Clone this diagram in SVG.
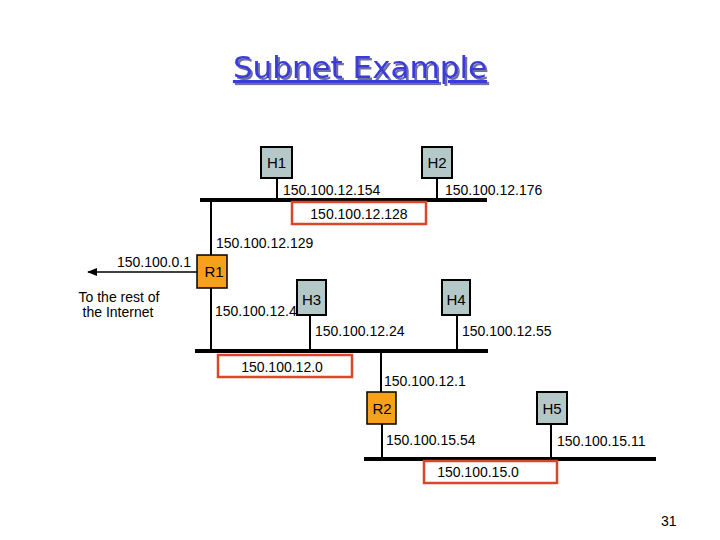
<svg xmlns="http://www.w3.org/2000/svg" width="720" height="540" viewBox="0 0 720 540">
<style>
text{font-family:"Liberation Sans",Arial,sans-serif;font-size:14px;fill:#000}
.host{fill:#b4c8c8;stroke:#000;stroke-width:2}
.rtr{fill:#f7a11a;stroke:#000;stroke-width:1.5}
.bus{stroke:#000;stroke-width:4}
.ln{stroke:#000;stroke-width:2}
.net{fill:#fff;stroke:#d9462a;stroke-width:2.5}
.lbl{font-size:15px}
</style>
<defs><marker id="ah" markerWidth="10" markerHeight="8" refX="9" refY="4" orient="auto" markerUnits="userSpaceOnUse"><path d="M0,0L10,4L0,8z" fill="#000"/></marker>
<filter id="sh" x="-10%" y="-20%" width="120%" height="150%"><feDropShadow dx="2" dy="2" stdDeviation="0" flood-color="#7070a0"/></filter></defs>
<rect width="720" height="540" fill="#fff"/>
<g id="title">
<text x="360" y="78" text-anchor="middle" filter="url(#sh)" style="font-family:'DejaVu Sans',sans-serif;font-size:31px;fill:#3a3adc;text-decoration:underline">Subnet Example</text>
</g>
<g id="connectors">
<line class="bus" x1="200" y1="200" x2="487" y2="200"/>
<line class="bus" x1="195" y1="351" x2="488" y2="351"/>
<line class="bus" x1="364" y1="459" x2="656" y2="459"/>
<line class="ln" x1="277" y1="178" x2="277" y2="200"/>
<line class="ln" x1="437" y1="178" x2="437" y2="200"/>
<line class="ln" x1="211" y1="200" x2="211" y2="351"/>
<line class="ln" x1="310" y1="315" x2="310" y2="351"/>
<line class="ln" x1="457" y1="315" x2="457" y2="351"/>
<line class="ln" x1="381" y1="351" x2="381" y2="392"/>
<line class="ln" x1="382" y1="424" x2="382" y2="459"/>
<line class="ln" x1="551" y1="424" x2="551" y2="459"/>
<line x1="197" y1="272" x2="88" y2="272" stroke="#000" stroke-width="1.5" marker-end="url(#ah)"/>
</g>
<g id="H1"><rect class="host" x="261" y="147" width="31" height="31"/><text class="lbl" x="276.5" y="168" text-anchor="middle">H1</text></g>
<g id="H2"><rect class="host" x="422" y="147" width="30" height="31"/><text class="lbl" x="437" y="168" text-anchor="middle">H2</text></g>
<g id="H3"><rect class="host" x="297" y="280" width="29" height="35"/><text class="lbl" x="311.5" y="305" text-anchor="middle">H3</text></g>
<g id="H4"><rect class="host" x="442" y="280" width="28" height="35"/><text class="lbl" x="456" y="305" text-anchor="middle">H4</text></g>
<g id="H5"><rect class="host" x="537" y="392" width="30" height="32"/><text class="lbl" x="552" y="414" text-anchor="middle">H5</text></g>
<g id="R1"><rect class="rtr" x="197" y="255" width="30" height="33"/><text class="lbl" x="214" y="277" text-anchor="middle">R1</text></g>
<g id="R2"><rect class="rtr" x="367" y="392" width="29" height="32"/><text class="lbl" x="382" y="414" text-anchor="middle">R2</text></g>
<g id="net128"><rect class="net" x="292" y="202" width="134" height="22"/><text x="359" y="219" text-anchor="middle">150.100.12.128</text></g>
<g id="net0"><rect class="net" x="218" y="355" width="134" height="22"/><text x="282" y="372" text-anchor="middle">150.100.12.0</text></g>
<g id="net15"><rect class="net" x="424" y="461" width="133" height="22"/><text x="478" y="477" text-anchor="middle">150.100.15.0</text></g>
<g id="labels">
<text x="283" y="195">150.100.12.154</text>
<text x="445" y="195">150.100.12.176</text>
<text x="216" y="248">150.100.12.129</text>
<text x="215" y="316">150.100.12.4</text>
<text x="315" y="336">150.100.12.24</text>
<text x="462" y="336">150.100.12.55</text>
<text x="384" y="386">150.100.12.1</text>
<text x="386" y="445">150.100.15.54</text>
<text x="557" y="446">150.100.15.11</text>
<text x="117" y="267">150.100.0.1</text>
<text x="119" y="302" text-anchor="middle">To the rest of</text>
<text x="118" y="317" text-anchor="middle">the Internet</text>
<text x="661" y="526">31</text>
</g>
</svg>
